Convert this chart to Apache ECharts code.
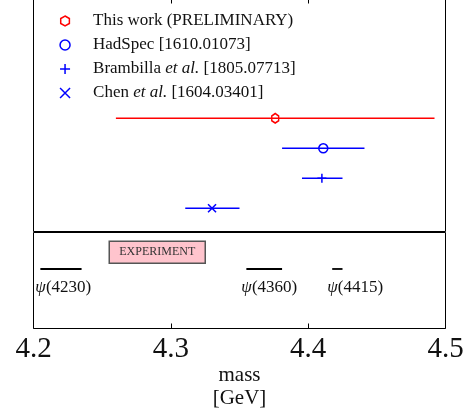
<!DOCTYPE html>
<html>
<head>
<meta charset="utf-8">
<script src="https://cdn.jsdelivr.net/npm/echarts@6/dist/echarts.min.js"></script>
<style>
html,body{margin:0;padding:0;background:#fff;}
#chart{width:474px;height:412px;}
</style>
</head>
<body>
<div id="chart"></div>
<script>
// ---- data ----
const sources = ['This work (PRELIMINARY)', 'HadSpec [1610.01073]', 'Brambilla et al. [1805.07713]', 'Chen et al. [1604.03401]'];
const centers = [4.376, 4.411, 4.410, 4.330];
const lows    = [4.260, 4.381, 4.3955, 4.3105];
const highs   = [4.492, 4.441, 4.425, 4.350];

const expStates = ['4230', '4360', '4415'];
const expLow    = [4.205, 4.355, 4.4175];
const expHigh   = [4.235, 4.381, 4.425];

const xTicks = [4.2, 4.3, 4.4, 4.5];
const expTag = 'EXPERIMENT';

// ---- styling ----
const FONT = '"Liberation Serif", "DejaVu Serif", serif';
const colors = ['#ff0000', '#0000ff', '#0000ff', '#0000ff'];
const symbols = [
  'path://M5,0 L9.33,2.5 L9.33,7.5 L5,10 L0.67,7.5 L0.67,2.5 Z',
  'circle',
  'path://M0,5L10,5M5,0L5,10',
  'path://M0,0L10,10M10,0L0,10'
];
const symSizes = [[8, 9.5], 9, 9, 8];

const chart = echarts.init(document.getElementById('chart'), null, {renderer: 'canvas'});

const nRows = sources.length;
const rowOf = i => nRows - i;   // top row first
const expRow = 0.62;

const series = [];
sources.forEach((name, i) => {
  series.push({
    name: name,
    type: 'scatter',
    xAxisIndex: 0, yAxisIndex: 0,
    symbol: symbols[i],
    symbolSize: symSizes[i],
    symbolKeepAspect: true,
    z: 5,
    itemStyle: {color: 'transparent', borderColor: colors[i], borderWidth: 1.5, opacity: 1},
    emphasis: {disabled: true},
    data: [[centers[i], rowOf(i)]]
  });
});
sources.forEach((name, i) => {
  series.push({
    name: name,
    type: 'custom',
    xAxisIndex: 0, yAxisIndex: 0,
    z: 3,
    silent: true,
    data: [[lows[i], highs[i], rowOf(i)]],
    encode: {x: [0, 1], y: 2},
    renderItem: function (params, api) {
      const a = api.coord([api.value(0), api.value(2)]);
      const b = api.coord([api.value(1), api.value(2)]);
      return {
        type: 'line',
        shape: {x1: a[0], y1: a[1], x2: b[0], y2: b[1]},
        style: {stroke: colors[i], lineWidth: 1.5}
      };
    }
  });
});
series.push({
  name: 'experiment',
  type: 'custom',
  xAxisIndex: 1, yAxisIndex: 1,
  silent: true,
  data: expStates.map((s, k) => [expLow[k], expHigh[k], expRow, k]),
  encode: {x: [0, 1], y: 2},
  renderItem: function (params, api) {
    const a = api.coord([api.value(0), api.value(2)]);
    const b = api.coord([api.value(1), api.value(2)]);
    const k = api.value(3);
    return {
      type: 'group',
      children: [
        {type: 'line', shape: {x1: a[0], y1: a[1], x2: b[0], y2: b[1]},
         style: {stroke: '#000', lineWidth: 1.8}},
        {type: 'text', x: a[0] - 5, y: a[1] + 18.5,
         style: {
           text: '{i|ψ}{n|(' + expStates[k] + ')}',
           verticalAlign: 'middle', align: 'left',
           rich: {
             i: {fontFamily: FONT, fontStyle: 'italic', fontSize: 17, fill: '#111'},
             n: {fontFamily: FONT, fontSize: 17, fill: '#111'}
           }
         }}
      ]
    };
  }
});

const legendRich = {
  s: {width: 18, lineHeight: 17},
  n: {fontFamily: FONT, fontSize: 17, color: '#111', lineHeight: 17},
  i: {fontFamily: FONT, fontSize: 17, fontStyle: 'italic', color: '#111', lineHeight: 17}
};
function legendFmt(name) {
  const m = name.match(/^(.*?)(et al\.)(.*)$/);
  if (m) return '{s|}{n|' + m[1] + '}{i|' + m[2] + '}{n|' + m[3] + '}';
  return '{s|}{n|' + name + '}';
}

const option = {
  animation: false,
  backgroundColor: '#fff',
  grid: [
    {left: 33.5, top: -2.5, width: 412, height: 234, show: true, borderColor: '#000', borderWidth: 1,
     backgroundColor: 'transparent', containLabel: false, outerBoundsMode: 'none'},
    {left: 33.5, top: 232.5, width: 412, height: 96, show: true, borderColor: '#000', borderWidth: 1,
     backgroundColor: 'transparent', containLabel: false, outerBoundsMode: 'none'}
  ],
  xAxis: [
    {gridIndex: 0, type: 'value', min: xTicks[0], max: xTicks[xTicks.length - 1], interval: 0.1, position: 'top',
     axisLine: {show: false}, axisTick: {show: true, inside: true, length: 6, lineStyle: {color: '#000', width: 1}},
     axisLabel: {show: false}, splitLine: {show: false}},
    {gridIndex: 1, type: 'value', min: xTicks[0], max: xTicks[xTicks.length - 1], interval: 0.1, position: 'bottom',
     axisLine: {show: false}, axisTick: {show: true, inside: true, length: 5, lineStyle: {color: '#000', width: 1}},
     axisLabel: {show: true, margin: 6, fontFamily: FONT, fontSize: 29, color: '#111',
       formatter: v => v.toFixed(1)},
     splitLine: {show: false},
     name: 'mass\n[GeV]', nameLocation: 'middle', nameGap: 31.5,
     nameTextStyle: {fontFamily: FONT, fontSize: 21, color: '#111', lineHeight: 23}}
  ],
  yAxis: [
    {gridIndex: 0, type: 'value', min: 0.2267, max: 8.0267, show: false, splitLine: {show: false}},
    {gridIndex: 1, type: 'value', min: 0, max: 1, show: false, splitLine: {show: false}}
  ],
  legend: {
    orient: 'vertical',
    left: 59.3, top: 12.5,
    itemWidth: 10, itemHeight: 10, itemGap: 7,
    symbolKeepAspect: true,
    selectedMode: false,
    padding: 0,
    data: sources.map((name, i) => ({
      name: name,
      icon: symbols[i],
      itemStyle: {color: 'transparent', borderColor: colors[i], borderWidth: 1.5}
    })),
    formatter: legendFmt,
    textStyle: {rich: legendRich, fontFamily: FONT, fontSize: 17, color: '#111'}
  },
  graphic: [
    {type: 'group', left: 108.5, top: 240.5, children: [
      {type: 'rect', shape: {x: 0, y: 0, width: 96, height: 22},
       style: {fill: '#ffc4cd', stroke: '#555', lineWidth: 1.5}},
      {type: 'text', x: 48, y: 11,
       style: {text: expTag, fontFamily: FONT, fontSize: 12, fill: '#333', align: 'center', verticalAlign: 'middle'}}
    ]}
  ],
  series: series
};
chart.setOption(option);
</script>
</body>
</html>
